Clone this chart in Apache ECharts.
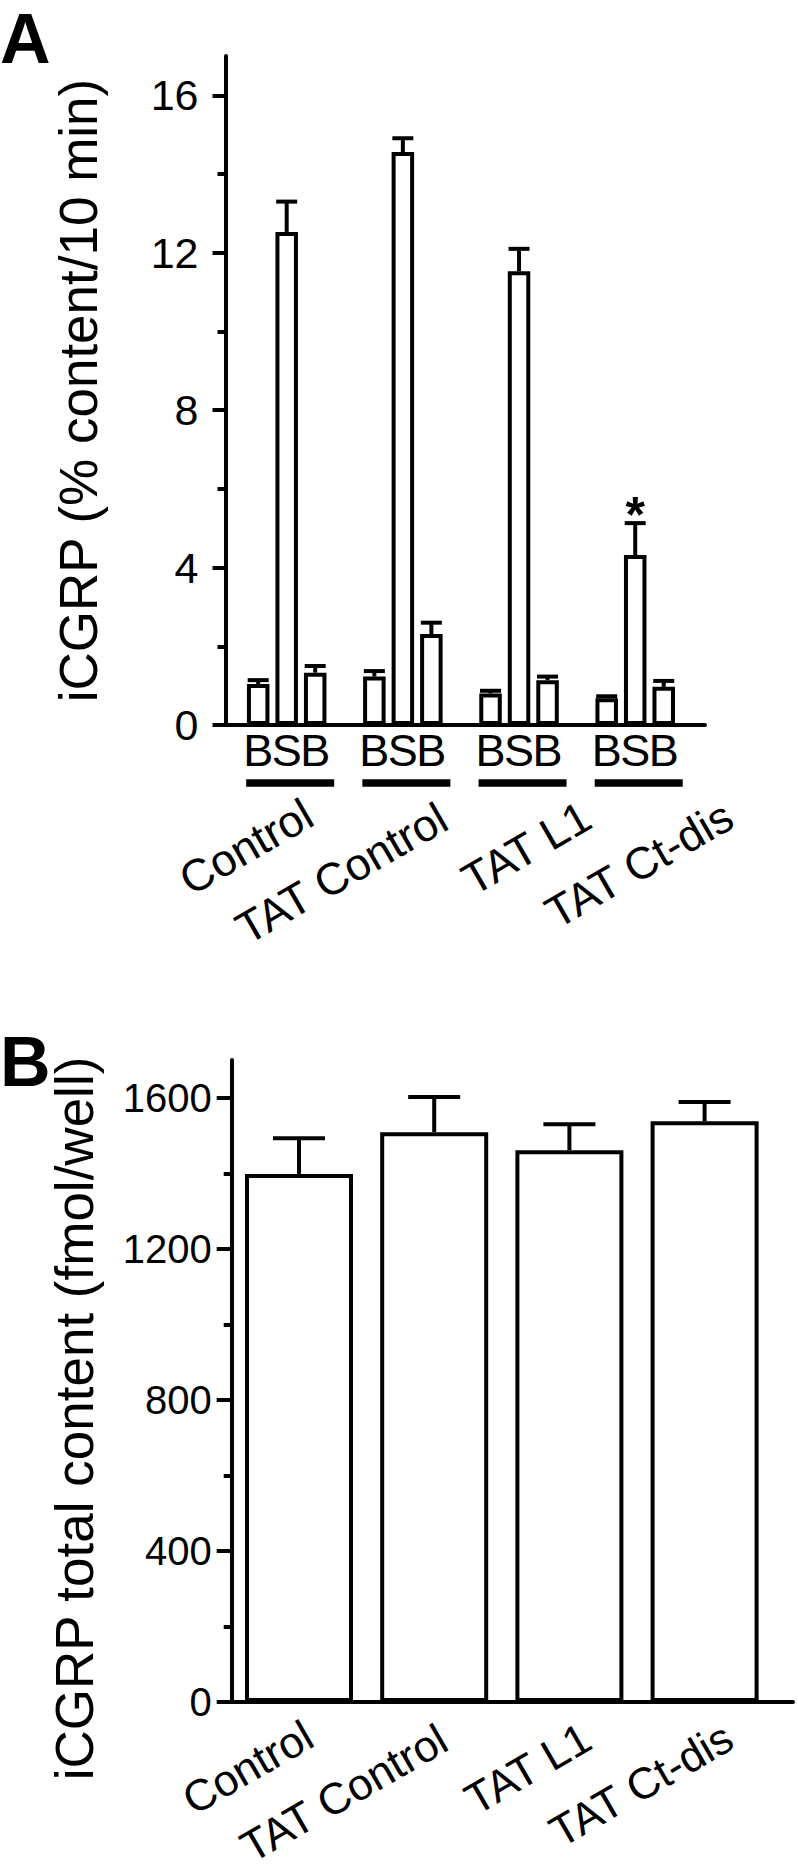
<!DOCTYPE html>
<html>
<head>
<meta charset="utf-8">
<script src="https://cdn.jsdelivr.net/npm/echarts@6/dist/echarts.min.js"></script>
<style>
html,body{margin:0;padding:0;background:#ffffff;}
#chart{width:798px;height:1873px;}
</style>
</head>
<body>
<div id="chart"></div>
<script>
// ---------- data ----------
const groups = ['Control', 'TAT Control', 'TAT L1', 'TAT Ct-dis'];
const seriesLetters = ['B', 'S', 'B'];

// Panel A: iCGRP release (% content / 10 min)
const basalBefore    = [1.04, 1.23, 0.80, 0.68];
const basalBeforeSem = [0.10, 0.14, 0.07, 0.05];
const stimulated     = [12.53, 14.56, 11.53, 4.32];
const stimulatedSem  = [0.77, 0.35, 0.57, 0.81];
const basalAfter     = [1.33, 2.31, 1.14, 0.97];
const basalAfterSem  = [0.17, 0.29, 0.09, 0.15];
const stimulatedMarks = ['', '', '', '*'];
const releaseTicks      = [0, 4, 8, 12, 16];
const releaseMinorTicks = [2, 6, 10, 14];

// Panel B: iCGRP total content (fmol/well)
const totalContent    = [1398, 1509, 1461, 1538];
const totalContentSem = [95, 93, 69, 51];
const contentTicks      = [0, 400, 800, 1200, 1600];
const contentMinorTicks = [200, 600, 1000, 1400];

// ---------- style ----------
const FONT = "'Liberation Sans', Arial, Helvetica, sans-serif";
const K = '#000000';
const LW = 4;
const labelShift = [1.5, 10.5, 7, 6];   // small left nudges of rotated group labels (px)
const A_BAR_W = 22.5, A_BAR_GAP = 0.267;
const A_STEP = A_BAR_W * (1 + A_BAR_GAP);

// narrow face for panel B tick labels when installed (fallback: slightly smaller regular face)
function measure(txt, font) {
  const c = document.createElement('canvas').getContext('2d');
  c.font = font;
  return c.measureText(txt).width;
}
const narrowAvailable = measure('1600', "44px 'Liberation Sans Narrow', monospace") < 90;
const B_TICK_FONT = narrowAvailable ? "'Liberation Sans Narrow', 'Liberation Sans', sans-serif" : FONT;
const B_TICK_SIZE = narrowAvailable ? 44 : 40;

function errorBars(offsetPx, capW, marks) {
  return function (params, api) {
    const i = api.value(0), v = api.value(1), e = api.value(2);
    const p0 = api.coord([i, v]);
    const p1 = api.coord([i, v + e]);
    const x = p0[0] + offsetPx;
    const children = [
      {type: 'line', shape: {x1: x, y1: p0[1], x2: x, y2: p1[1]}, style: {stroke: K, lineWidth: LW}},
      {type: 'line', shape: {x1: x - capW / 2, y1: p1[1], x2: x + capW / 2, y2: p1[1]}, style: {stroke: K, lineWidth: LW}}
    ];
    if (marks && marks[params.dataIndex]) {
      children.push({type: 'text', x: x, y: p1[1] - 8.5,
        style: {text: marks[params.dataIndex], fontSize: 50, fontWeight: 'bold', fontFamily: FONT, fill: K,
                align: 'center', verticalAlign: 'middle'}});
    }
    return {type: 'group', children: children};
  };
}

function groupLabelData() {
  return groups.map((g, i) => ({
    value: g,
    textStyle: {padding: [0, 0.866 * labelShift[i], labelShift[i], 0]}
  }));
}

const hiddenY = (grid, max) => ({gridIndex: grid, type: 'value', min: 0, max: max, show: false,
  position: 'left', splitLine: {show: false}});

const lineOnlyX = (grid) => ({gridIndex: grid, type: 'value', min: 0, max: 1,
  axisLine: {show: true, onZero: false, lineStyle: {color: K, width: LW}},
  axisTick: {show: false}, axisLabel: {show: false}, splitLine: {show: false}});

const hiddenCatX = (grid) => ({gridIndex: grid, type: 'category', data: groups,
  axisLine: {show: false}, axisTick: {show: false}, axisLabel: {show: false}, splitLine: {show: false}});

const labelCatX = (grid, margin, size) => ({gridIndex: grid, type: 'category', data: groupLabelData(),
  axisLine: {show: false}, axisTick: {show: false}, splitLine: {show: false},
  axisLabel: {show: true, interval: 0, rotate: 30, margin: margin, fontSize: size,
              color: K, fontFamily: FONT}});

const barStyle = {color: '#ffffff', borderColor: K, borderWidth: LW, opacity: 1};
const G = {outerBoundsMode: 'none', containLabel: false};

const option = {
  animation: false,
  backgroundColor: '#ffffff',
  title: [
    {text: 'A', left: 0, top: 4, padding: 0,
     textStyle: {fontSize: 70, fontWeight: 'bold', color: K, fontFamily: FONT}},
    {text: 'B', left: 0, top: 1027, padding: 0,
     textStyle: {fontSize: 70, fontWeight: 'bold', color: K, fontFamily: FONT}}
  ],
  grid: [
    Object.assign({left: 225.5, top: 56, width: 479.5, height: 669}, G),   // 0 A frame
    Object.assign({left: 228.6, top: 56, width: 464.7, height: 669}, G),   // 1 A bars
    Object.assign({left: 239.5, top: 56, width: 564.4, height: 669}, G),   // 2 A labels
    Object.assign({left: 231.7, top: 1060, width: 561.3, height: 642}, G), // 3 B frame
    Object.assign({left: 231.4, top: 1060, width: 540.8, height: 642}, G), // 4 B bars
    Object.assign({left: 239.5, top: 1060, width: 564.4, height: 642}, G)  // 5 B labels
  ],
  xAxis: [
    lineOnlyX(0),
    hiddenCatX(1),
    labelCatX(2, 85, 45),
    lineOnlyX(3),
    hiddenCatX(4),
    labelCatX(5, 29, 44)
  ],
  yAxis: [
    { // 0: A main
      gridIndex: 0, type: 'value', position: 'left', min: 0, max: 17, interval: 4,
      axisLine: {show: true, lineStyle: {color: K, width: LW}},
      axisTick: {show: true, length: 13, customValues: releaseTicks, lineStyle: {color: K, width: LW}},
      axisLabel: {show: true, customValues: releaseTicks, fontSize: 43, margin: 27, color: K,
                  fontFamily: FONT, padding: [0, 0, 14, 0], formatter: v => String(v)},
      splitLine: {show: false},
      name: 'iCGRP (% content/10 min)', nameLocation: 'middle', nameGap: 120.5, nameMoveOverlap: false,
      nameTextStyle: {fontSize: 53, color: K, fontFamily: FONT}
    },
    { // 1: A minor ticks
      gridIndex: 0, type: 'value', position: 'left', min: 0, max: 17, interval: 4,
      axisLine: {show: false},
      axisTick: {show: true, length: 8, customValues: releaseMinorTicks, lineStyle: {color: K, width: LW}},
      axisLabel: {show: false}, splitLine: {show: false}
    },
    hiddenY(1, 17),  // 2
    hiddenY(2, 1),   // 3
    { // 4: B main
      gridIndex: 3, type: 'value', position: 'left', min: 0, max: 1700, interval: 400,
      axisLine: {show: true, lineStyle: {color: K, width: LW}},
      axisTick: {show: true, length: 15, customValues: contentTicks, lineStyle: {color: K, width: LW}},
      axisLabel: {show: true, customValues: contentTicks, fontSize: B_TICK_SIZE, margin: 20, color: K,
                  fontFamily: B_TICK_FONT, padding: [0, 0, 8, 0], formatter: v => String(v)},
      splitLine: {show: false},
      name: 'iCGRP total content (fmol/well)', nameLocation: 'middle', nameGap: 130.5, nameMoveOverlap: false,
      nameTextStyle: {fontSize: 53, color: K, fontFamily: FONT, padding: [0, 75, 0, 0]}
    },
    { // 5: B minor ticks
      gridIndex: 3, type: 'value', position: 'left', min: 0, max: 1700, interval: 400,
      axisLine: {show: false},
      axisTick: {show: true, length: 8, customValues: contentMinorTicks, lineStyle: {color: K, width: LW}},
      axisLabel: {show: false}, splitLine: {show: false}
    },
    hiddenY(4, 1700), // 6
    hiddenY(5, 1)     // 7
  ],
  series: [
    // ---- Panel A bars ----
    ...[basalBefore, stimulated, basalAfter].map((vals, k) => ({
      type: 'bar', name: seriesLetters[k], xAxisIndex: 1, yAxisIndex: 2, data: vals,
      barWidth: A_BAR_W, barGap: (A_BAR_GAP * 100) + '%', silent: true,
      itemStyle: barStyle,
      label: {show: true, position: 'bottom', distance: 3, formatter: '{a}',
              fontSize: 45, color: K, fontFamily: FONT}
    })),
    // ---- Panel A error bars ----
    {type: 'custom', xAxisIndex: 1, yAxisIndex: 2, silent: true,
     renderItem: errorBars(-A_STEP, 21),
     data: basalBefore.map((v, i) => [i, v, basalBeforeSem[i]])},
    {type: 'custom', xAxisIndex: 1, yAxisIndex: 2, silent: true,
     renderItem: errorBars(0, 21, stimulatedMarks),
     data: stimulated.map((v, i) => [i, v, stimulatedSem[i]])},
    {type: 'custom', xAxisIndex: 1, yAxisIndex: 2, silent: true,
     renderItem: errorBars(A_STEP, 21),
     data: basalAfter.map((v, i) => [i, v, basalAfterSem[i]])},
    // ---- Panel A group underlines ----
    {type: 'scatter', xAxisIndex: 1, yAxisIndex: 2, silent: true, clip: false,
     symbol: 'rect', symbolSize: [88, 7.5], symbolOffset: [3.5, 58],
     itemStyle: {color: K, opacity: 1}, data: groups.map((g, i) => [i, 0])},
    // ---- Panel B ----
    {type: 'bar', name: 'Total content', xAxisIndex: 4, yAxisIndex: 6, data: totalContent,
     barWidth: 108, silent: true, itemStyle: barStyle},
    {type: 'custom', xAxisIndex: 4, yAxisIndex: 6, silent: true,
     renderItem: errorBars(0, 52),
     data: totalContent.map((v, i) => [i, v, totalContentSem[i]])}
  ]
};

const chart = echarts.init(document.getElementById('chart'), null, {renderer: 'svg', width: 798, height: 1873});
chart.setOption(option);
</script>
</body>
</html>
